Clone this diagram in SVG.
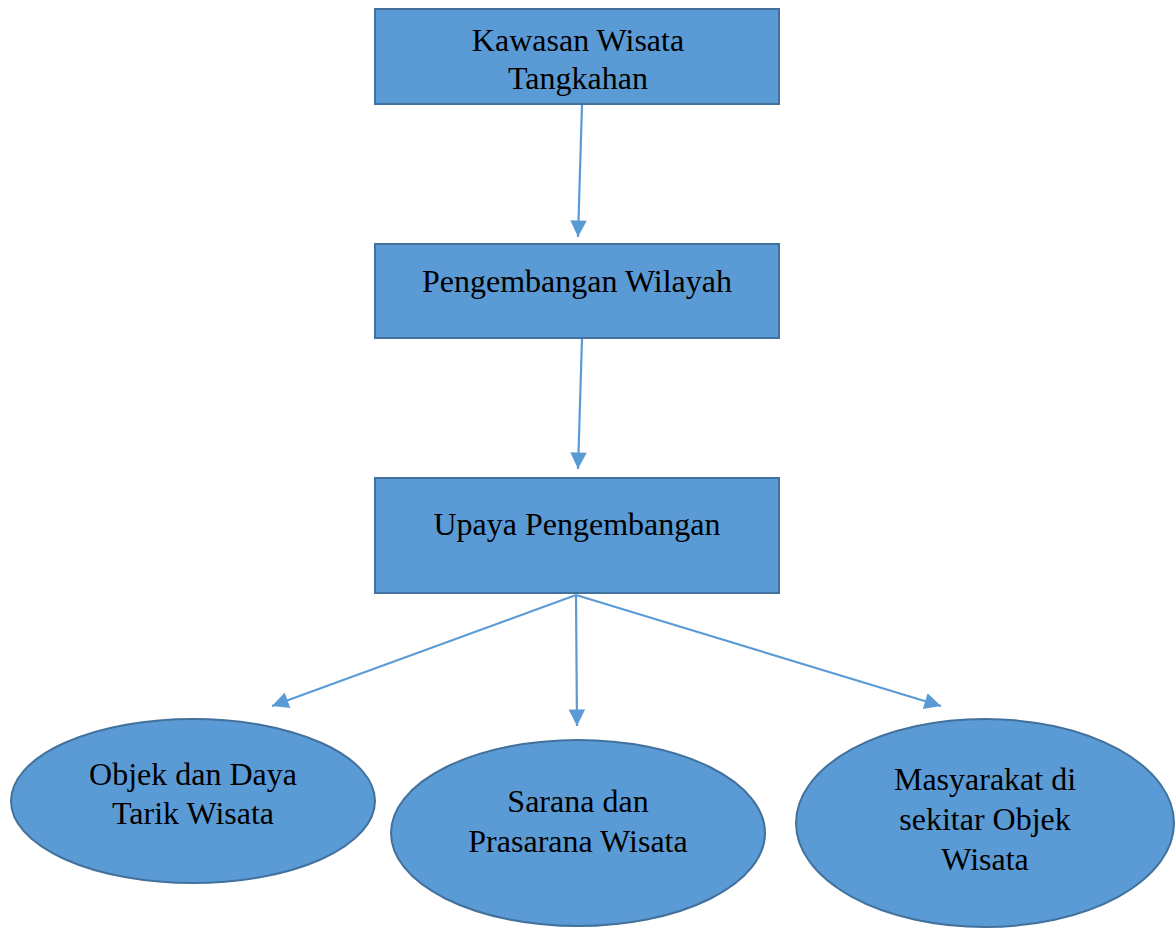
<svg xmlns="http://www.w3.org/2000/svg" width="1176" height="928" viewBox="0 0 1176 928">
<style>
.n{fill:#5B9BD5;stroke:#41719C;stroke-width:2}
.t{font-family:'Liberation Serif','Times New Roman',Times,serif;font-size:32px;fill:#000;text-anchor:middle}
.c{stroke:#5B9BD5;stroke-width:2.2;fill:none;marker-end:url(#ah)}
</style>
<defs>
<marker id="ah" viewBox="0 0 10 10" refX="10" refY="5" markerWidth="8" markerHeight="7.5" markerUnits="strokeWidth" orient="auto">
<path d="M0,0 L10,5 L0,10 Z" fill="#5B9BD5"/>
</marker>
</defs>
<rect width="1176" height="928" fill="#fff"/>
<g id="connectors">
<line class="c" x1="582" y1="105" x2="578" y2="237"/>
<line class="c" x1="582" y1="339" x2="578" y2="469"/>
<line class="c" x1="576" y1="595" x2="272" y2="706"/>
<line class="c" x1="576" y1="595" x2="577" y2="726"/>
<line class="c" x1="576" y1="595" x2="941" y2="706"/>
</g>
<g id="n1"><rect class="n" x="375" y="9" width="404" height="95"/>
<text class="t" font-family="Liberation Serif, serif" x="578" y="51">Kawasan Wisata</text><text class="t" font-family="Liberation Serif, serif" x="578" y="89">Tangkahan</text></g>
<g id="n2"><rect class="n" x="375" y="244" width="404" height="94"/>
<text class="t" font-family="Liberation Serif, serif" x="577" y="292">Pengembangan Wilayah</text></g>
<g id="n3"><rect class="n" x="375" y="478" width="404" height="115"/>
<text class="t" font-family="Liberation Serif, serif" x="577" y="535">Upaya Pengembangan</text></g>
<g id="n4"><ellipse class="n" cx="193" cy="801" rx="182" ry="82"/>
<text class="t" font-family="Liberation Serif, serif" x="193" y="785">Objek dan Daya</text><text class="t" font-family="Liberation Serif, serif" x="193" y="824">Tarik Wisata</text></g>
<g id="n5"><ellipse class="n" cx="578" cy="833" rx="187" ry="93"/>
<text class="t" font-family="Liberation Serif, serif" x="578" y="812">Sarana dan</text><text class="t" font-family="Liberation Serif, serif" x="578" y="852">Prasarana Wisata</text></g>
<g id="n6"><ellipse class="n" cx="985" cy="823" rx="189" ry="104"/>
<text class="t" font-family="Liberation Serif, serif" x="985" y="790">Masyarakat di</text><text class="t" font-family="Liberation Serif, serif" x="985" y="830">sekitar Objek</text><text class="t" font-family="Liberation Serif, serif" x="985" y="870">Wisata</text></g>
</svg>
